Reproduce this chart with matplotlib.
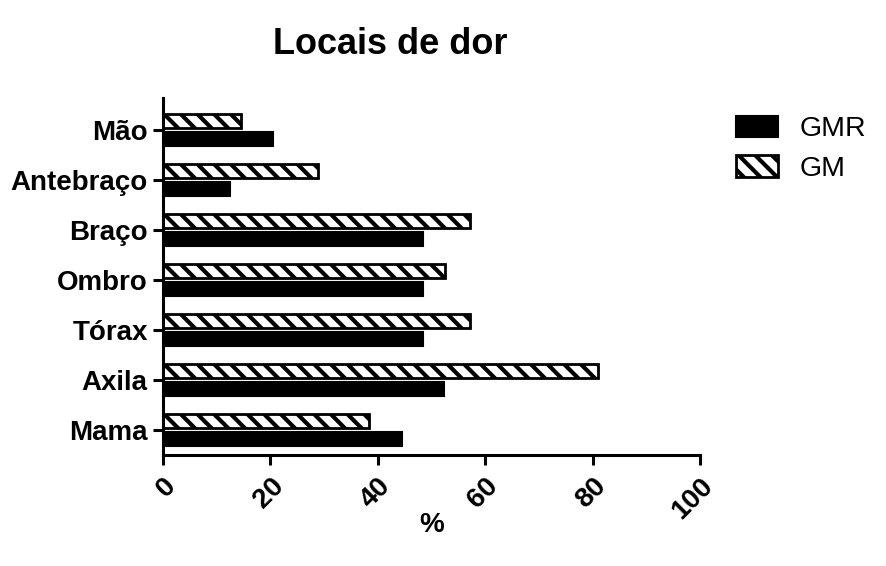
import matplotlib
matplotlib.use("Agg")
import matplotlib.pyplot as plt
import numpy as np

categories = ["Mama", "Axila", "Tórax", "Ombro", "Braço", "Antebraço", "Mão"]
gmr = [44.5, 52.4, 48.5, 48.5, 48.5, 12.4, 20.5]
gm = [38.3, 81.0, 57.2, 52.5, 57.2, 28.8, 14.5]
xticks = [0, 20, 40, 60, 80, 100]

plt.rcParams['font.family'] = ['Liberation Sans', 'DejaVu Sans']
plt.rcParams['hatch.linewidth'] = 3.0

fig = plt.figure(figsize=(8.86, 5.66), dpi=100)
ax = fig.add_axes([163/886, 1-455/566, (700-163)/886, (455-98)/566])

y = np.arange(len(categories))
h = 0.28
off = 0.18
ax.barh(y - off, gmr, height=h, color='black', edgecolor='black', linewidth=1.5, label='GMR')
ax.barh(y + off, gm, height=h, color='white', edgecolor='black', linewidth=2.0, hatch='\\\\', label='GM')

ax.set_xlim(0, 100)
ax.set_ylim(-0.5, 6.64)
ax.set_yticks(y)
ax.set_yticklabels(categories, fontsize=20, fontweight='bold')
ax.set_xticks(xticks)
ax.set_xticklabels([str(t) for t in xticks], fontsize=20, fontweight='bold',
                   rotation=45, ha='right', va='top', rotation_mode='anchor')
ax.set_xlabel('%', fontsize=20, fontweight='bold', va='top')
ax.xaxis.set_label_coords(0.5, -0.16)

for s in ['top', 'right']:
    ax.spines[s].set_visible(False)
for s in ['left', 'bottom']:
    ax.spines[s].set_linewidth(2.2)
ax.tick_params(axis='both', width=2.2, length=7, direction='out')
ax.tick_params(axis='x', pad=6)
ax.tick_params(axis='y', pad=4)

fig.text(390/886, 1-45/566, 'Locais de dor', fontsize=26, fontweight='bold',
         ha='center', va='center')

leg = fig.legend(loc='upper left', bbox_to_anchor=(710/886, 1-90/566), frameon=False,
                 fontsize=20.5, handlelength=1.5, handleheight=0.8, labelspacing=0.45,
                 handletextpad=0.75)

fig.savefig('out.png', dpi=100)
